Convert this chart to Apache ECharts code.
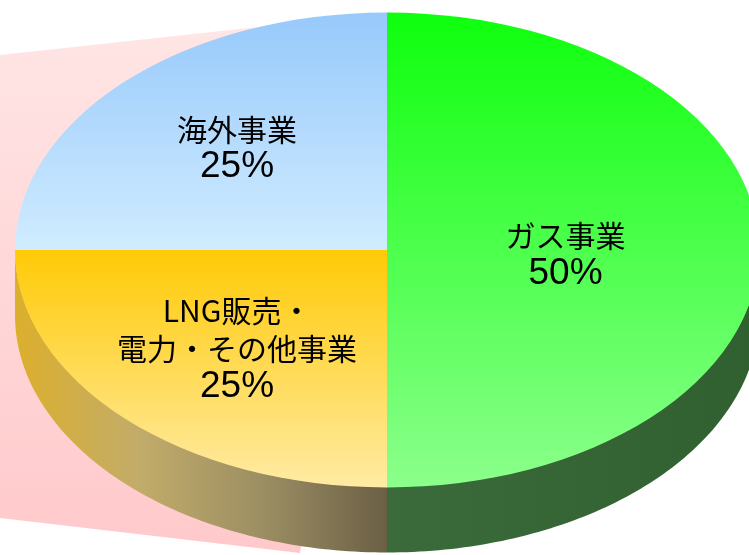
<!DOCTYPE html>
<html>
<head>
<meta charset="utf-8">
<script src="https://cdn.jsdelivr.net/npm/echarts@6/dist/echarts.min.js"></script>
<style>
html, body { margin: 0; padding: 0; background: #fff; }
#chart { width: 749px; height: 555px; }
</style>
</head>
<body>
<div id="chart"></div>
<script>
// 事業別構成比（上から時計回り）
const categories = ['ガス事業', 'LNG販売・\n電力・その他事業', '海外事業'];
const values = [50, 25, 25];

// 天面のグラデーション（上→下）
const topColors = [
  ['#0EFF0E', '#8CFF8C'],
  ['#FFCA06', '#FFEBA4'],
  ['#97C9FB', '#D0ECFF'],
];
// 側面のグラデーション（左→右）
const sideColors = [
  ['#3B6B3B', '#306030'],
  ['#DCAF2C', '#C2AC6A', '#9C8E63', '#6B5F45'],
  ['#8FA8C8', '#607890'],
];
const labelRadius = [0.48, 0.57, 0.57];
const labelShift = [5, 3, -6];

const cx = 387, cy = 250, rx = 372, ry = 237.5, depth = 65;
const total = values.reduce((a, b) => a + b, 0);
const starts = [];
let acc = 0;
values.forEach((v) => { starts.push(acc); acc += v; });

function angleOf(v) {
  return -Math.PI / 2 + (v / total) * Math.PI * 2;
}

function gradient(x0, y0, x1, y1, cols) {
  const stops = cols.map((c, k) => ({ offset: k / (cols.length - 1), color: c }));
  return new echarts.graphic.LinearGradient(x0, y0, x1, y1, stops);
}

function renderItem(params, api) {
  const i = params.dataIndex;
  const v = api.value(0);
  const a0 = angleOf(starts[i]);
  const a1 = angleOf(starts[i] + v);
  const children = [];

  // 側面（手前の半分だけ見える）
  const lo = Math.max(a0, 0), hi = Math.min(a1, Math.PI);
  if (hi > lo) {
    const pts = [];
    const n = 90;
    for (let k = 0; k <= n; k++) {
      const t = lo + (hi - lo) * k / n;
      pts.push([cx + rx * Math.cos(t), cy + ry * Math.sin(t) - 1]);
    }
    for (let k = n; k >= 0; k--) {
      const t = lo + (hi - lo) * k / n;
      pts.push([cx + rx * Math.cos(t), cy + ry * Math.sin(t) + depth]);
    }
    children.push({
      type: 'polygon',
      z2: 1,
      shape: { points: pts },
      style: { fill: gradient(0, 0, 1, 0, sideColors[i]) },
    });
  }

  // 天面
  children.push({
    type: 'sector',
    z2: 5,
    shape: { cx: cx, cy: cy, r: rx, r0: 0, startAngle: a0, endAngle: a1, clockwise: true },
    scaleY: ry / rx,
    originX: cx,
    originY: cy,
    style: { fill: gradient(0, 0, 0, 1, topColors[i]) },
  });

  // ラベル
  const mid = (a0 + a1) / 2;
  const kr = labelRadius[i];
  const lines = categories[i].split('\n').map((s) => '{n|' + s + '}');
  lines.push('{p|' + Math.round((v / total) * 100) + '%}');
  children.push({
    type: 'text',
    z2: 10,
    x: cx + rx * kr * Math.cos(mid),
    y: cy + ry * kr * Math.sin(mid) + labelShift[i],
    style: {
      text: lines.join('\n'),
      align: 'center',
      verticalAlign: 'middle',
      rich: {
        n: { fontSize: 30, fontFamily: 'Noto Sans CJK JP', lineHeight: 38, fill: '#000', align: 'center' },
        p: { fontSize: 37, fontFamily: 'Liberation Sans', lineHeight: 38, fill: '#000', align: 'center' },
      },
    },
  });

  return { type: 'group', children: children };
}

const chart = echarts.init(document.getElementById('chart'));
const option = {
  animation: false,
  graphic: {
    elements: [
      {
        type: 'polygon',
        z: -1,
        silent: true,
        shape: { points: [[0, 55], [387, 13], [300, 553], [0, 518]] },
        style: { fill: gradient(0, 0, 0, 1, ['#FFE6E6', '#FFC9CB']) },
      },
    ],
  },
  series: [
    {
      type: 'custom',
      coordinateSystem: 'none',
      renderItem: renderItem,
      data: values.map((v, i) => ({ name: categories[i], value: [v] })),
    },
  ],
};
chart.setOption(option);
</script>
</body>
</html>
